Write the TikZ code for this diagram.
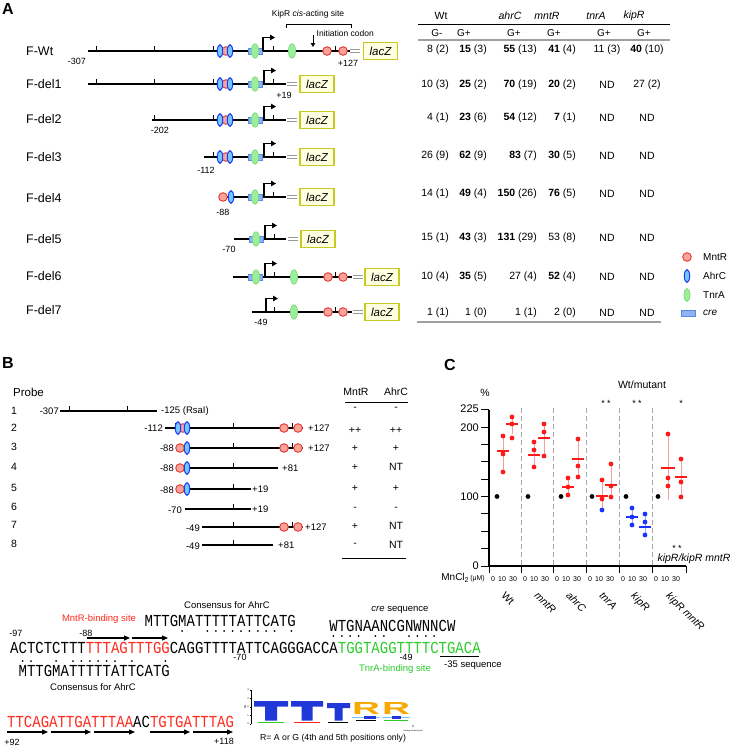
\documentclass[tikz,border=0pt]{standalone}
\usepackage{fontspec}
\setmainfont{Liberation Sans}
\setmonofont{Liberation Mono}
\usetikzlibrary{arrows.meta}
\definecolor{mred}{HTML}{E8352B}
\definecolor{mfill}{HTML}{F7A59C}
\definecolor{ablue}{HTML}{1E3CF5}
\definecolor{afill}{HTML}{72C8FA}
\definecolor{tgreen}{HTML}{7ADB7A}
\definecolor{tfill}{HTML}{9BEF9B}
\definecolor{cline}{HTML}{5A88E6}
\definecolor{cfill}{HTML}{8DB3F4}
\definecolor{lzline}{HTML}{C9C922}
\definecolor{lzfill}{HTML}{FFFFE2}
\definecolor{seqred}{HTML}{FF2A1E}
\definecolor{seqgreen}{HTML}{2BCC2B}
\definecolor{dotred}{HTML}{FF1A1A}
\definecolor{dotblue}{HTML}{1A33FF}
\definecolor{barred}{HTML}{F59C9C}
\definecolor{barblue}{HTML}{9CA8F5}
\definecolor{logoblue}{HTML}{2038D8}
\definecolor{logoorange}{HTML}{F7A900}
\newcommand\fsz[1]{\fontsize{#1}{#1}\selectfont}
\tikzset{
  linesty/.style={line width=1.2pt, black},
  ticksty/.style={line width=1.0pt, black},
  mntrsty/.style={draw=mred, fill=mfill, line width=0.9pt},
  ahrcsty/.style={draw=ablue, fill=afill, line width=1.0pt},
  tnrasty/.style={draw=tgreen, fill=tfill, line width=0.7pt},
  cresty/.style={draw=cline, fill=cfill, line width=0.7pt},
  promsty/.style={line width=1.3pt, -{Triangle[length=5pt,width=5.5pt]}},
  eqsty/.style={line width=1.0pt, gray!80},
  laczsty/.style={draw=lzline, fill=lzfill, line width=1.4pt, minimum width=34pt, minimum height=17pt, inner sep=0pt, font=\fsz{11.5}\itshape},
  rowlab/.style={font=\fsz{12.5}, anchor=west, inner sep=0pt},
  numsty/.style={font=\fsz{9}, inner sep=0pt},
  bnum/.style={font=\fsz{9.5}, inner sep=0pt},
  tabsty/.style={font=\fsz{10.5}, inner sep=0pt},
  tabr/.style={font=\fsz{10.5}, inner sep=0pt, anchor=east},
  panlab/.style={font=\fsz{16}\bfseries, inner sep=0pt},
  smallsty/.style={font=\fsz{8.5}, inner sep=0pt},
  seqlab/.style={font=\fsz{9.5}, inner sep=0pt},
  seqsty/.style={font=\ttfamily\fsz{14}, inner sep=0pt, anchor=base west},
  tinysty/.style={font=\fsz{7}, inner sep=0pt},
  meanR/.style={line width=1.3pt, dotred},
  meanB/.style={line width=1.3pt, dotblue},
  barR/.style={line width=0.8pt, barred},
  barB/.style={line width=0.8pt, barblue},
  glab/.style={font=\fsz{10.5}\itshape, inner sep=0pt, rotate=-45, anchor=north west}
}
\newcommand\McircA[2]{\draw[mntrsty] (#1,#2) circle[radius=4.3];}
\newcommand\AhrcE[2]{\draw[ahrcsty] (#1,#2) ellipse[x radius=2.7,y radius=6.3];}
\newcommand\TnraE[2]{\draw[tnrasty] (#1,#2) ellipse[x radius=3.6,y radius=7.2];}
\newcommand\CreB[2]{\draw[cresty] ({#1-7},{#2-3}) rectangle ({#1+7},{#2+3});}
\newcommand\PromA[2]{\draw[promsty] (#1,#2) -- (#1,{#2-13.5}) -- ({#1+12},{#2-13.5});}
\newcommand\TickA[2]{\draw[ticksty] (#1,#2) -- (#1,{#2-5.5});}
\newcommand\EqA[2]{\draw[eqsty] (#1,{#2-1.7}) -- ({#1+10},{#2-1.7}) (#1,{#2+1.7}) -- ({#1+10},{#2+1.7});}
\newcommand\ClusterA[2]{\McircA{#1+6}{#2}\AhrcE{#1}{#2}\AhrcE{#1+10}{#2}}
\newcommand\PtC[3]{\fill[#3] (#1,#2) circle[radius=2.4];}
\newcommand\rowA[7]{%
  \node[tabr] at (449,#1) {#2};
  \node[tabr] at (487,#1) {#3};
  \node[tabr] at (537,#1) {#4};
  \node[tabr] at (576,#1) {#5};
  \node[tabsty] at (607,#1) {#6};
  \node[tabsty] at (647,#1) {#7};}
\begin{document}
\begin{tikzpicture}[x=1pt,y=-1pt]
\path[use as bounding box, fill=white] (0,0) rectangle (735,747);

%================ PANEL A =================
\node[panlab] (labA) at (8,9) {A};
\node[smallsty] (kip) at (308,14) {KipR \textit{cis}-acting site};
\draw[line width=0.6pt] (286,28) -- (286,24) -- (351,24) -- (351,28);
\draw[line width=1pt, -{Triangle[length=4pt,width=4.5pt]}] (313,35) -- (313,47);
\node[smallsty, anchor=west] (init) at (316.5,33) {Initiation codon};

% F-Wt
\node[rowlab] (lWt) at (26,51) {F-Wt};
\draw[linesty] (88,51) -- (350,51);
\foreach \t in {96,154,213,273,335} {\TickA{\t}{51}}
\ClusterA{220}{51}
\CreB{255}{51}\TnraE{255}{51}
\PromA{263}{51}
\TnraE{292}{51}
\McircA{327}{51}\McircA{343}{51}
\EqA{350}{51}
\node[laczsty] (zWt) at (380.5,51) {lacZ};
\node[numsty] (nWta) at (77,61) {-307};
\node[numsty] (nWtb) at (348,63) {+127};

% F-del1
\node[rowlab] (l1) at (26,84) {F-del1};
\draw[linesty] (88,84) -- (286,84);
\foreach \t in {96,154,213,273} {\TickA{\t}{84}}
\ClusterA{220}{84}
\CreB{255}{84}\TnraE{255}{84}
\PromA{264}{84}
\EqA{287}{84}
\node[laczsty] (z1) at (317,84) {lacZ};
\node[numsty] (n1) at (284,95) {+19};

% F-del2
\node[rowlab] (l2) at (26,119) {F-del2};
\draw[linesty] (152,120) -- (286,120);
\foreach \t in {154,213,273} {\TickA{\t}{120}}
\ClusterA{220}{120}
\CreB{255}{120}\TnraE{255}{120}
\PromA{264}{120}
\EqA{287}{120}
\node[laczsty] (z2) at (317,120) {lacZ};
\node[numsty] (n2) at (160,130) {-202};

% F-del3
\node[rowlab] (l3) at (26,157) {F-del3};
\draw[linesty] (204,157) -- (286,157);
\foreach \t in {213,273} {\TickA{\t}{157}}
\ClusterA{220}{157}
\CreB{255}{157}\TnraE{255}{157}
\PromA{264}{157}
\EqA{287}{157}
\node[laczsty] (z3) at (317,157) {lacZ};
\node[numsty] (n3) at (206,170) {-112};

% F-del4
\node[rowlab] (l4) at (26,198) {F-del4};
\draw[linesty] (227,197) -- (286,197);
\TickA{273}{197}
\McircA{223}{197}\AhrcE{231}{197}
\CreB{255}{197}\TnraE{255}{197}
\PromA{264}{197}
\EqA{287}{197}
\node[laczsty] (z4) at (317,197) {lacZ};
\node[numsty] (n4) at (223,212) {-88};

% F-del5
\node[rowlab] (l5) at (26,239) {F-del5};
\draw[linesty] (234,239) -- (286,239);
\TickA{274}{239}
\CreB{256}{239}\TnraE{256}{239}
\PromA{265}{239}
\EqA{288}{239}
\node[laczsty] (z5) at (318,239) {lacZ};
\node[numsty] (n5) at (229,249) {-70};

% F-del6
\node[rowlab] (l6) at (26,276) {F-del6};
\draw[linesty] (233,277) -- (352,277);
\foreach \t in {274,335} {\TickA{\t}{277}}
\CreB{255}{277}\TnraE{256}{277}
\PromA{265}{277}
\TnraE{294}{277}
\McircA{328}{277}\McircA{343}{277}
\EqA{353}{277}
\node[laczsty] (z6) at (382,277) {lacZ};

% F-del7
\node[rowlab] (l7) at (26,310) {F-del7};
\draw[linesty] (252,312) -- (352,312);
\foreach \t in {274,335} {\TickA{\t}{312}}
\PromA{266}{312}
\TnraE{294}{312}
\McircA{328}{312}\McircA{343}{312}
\EqA{353}{312}
\node[laczsty] (z7) at (382,312) {lacZ};
\node[numsty] (n7) at (261,322) {-49};

% Table A
\node[tabsty] (hWt) at (441,16) {Wt};
\node[tabsty] (hah) at (510,16) {\textit{ahrC}};
\node[tabsty] (hmn) at (547,16) {\textit{mntR}};
\node[tabsty] (htn) at (596,16) {\textit{tnrA}};
\node[tabsty] (hki) at (634,16) {\textit{kipR}};
\draw[line width=0.8pt] (418,24) -- (670,24);
\node[tabsty,font=\fsz{10}] (g1) at (437,33) {G-};
\node[tabsty,font=\fsz{10}] (g2) at (464,33) {G+};
\node[tabsty,font=\fsz{10}] (g3) at (514,33) {G+};
\node[tabsty,font=\fsz{10}] (g4) at (554,33) {G+};
\node[tabsty,font=\fsz{10}] (g5) at (604,33) {G+};
\node[tabsty,font=\fsz{10}] (g6) at (644,33) {G+};
\draw[line width=1.2pt, gray!75] (418,40) -- (670,40);
\rowA{50}{8 (2)}{\textbf{15} (3)}{\textbf{55} (13)}{\textbf{41} (4)}{11 (3)}{\textbf{40} (10)}
\rowA{85}{10 (3)}{\textbf{25} (2)}{\textbf{70} (19)}{\textbf{20} (2)}{ND}{27 (2)}
\rowA{118}{4 (1)}{\textbf{23} (6)}{\textbf{54} (12)}{\textbf{7} (1)}{ND}{ND}
\rowA{156}{26 (9)}{\textbf{62} (9)}{\textbf{83} (7)}{\textbf{30} (5)}{ND}{ND}
\rowA{194}{14 (1)}{\textbf{49} (4)}{\textbf{150} (26)}{\textbf{76} (5)}{ND}{ND}
\rowA{238}{15 (1)}{\textbf{43} (3)}{\textbf{131} (29)}{53 (8)}{ND}{ND}
\rowA{277}{10 (4)}{\textbf{35} (5)}{27 (4)}{\textbf{52} (4)}{ND}{ND}
\rowA{313}{1 (1)}{1 (0)}{1 (1)}{2 (0)}{ND}{ND}
\draw[line width=1.2pt, gray!75] (417,322) -- (661,322);

% Legend
\McircA{687}{257}
\AhrcE{687}{276}
\draw[tnrasty] (687,295) ellipse[x radius=3,y radius=6.5];
\draw[cresty] (681,310) rectangle (695,316);
\node[tabsty,anchor=west,font=\fsz{10}] (lg1) at (703,257) {MntR};
\node[tabsty,anchor=west,font=\fsz{10}] (lg2) at (703,276) {AhrC};
\node[tabsty,anchor=west,font=\fsz{10}] (lg3) at (703,295) {TnrA};
\node[tabsty,anchor=west,font=\fsz{10}\itshape] (lg4) at (703,313) {cre};

%================ PANEL B =================
\node[panlab] (labB) at (8,363) {B};
\node[tabsty,anchor=west,font=\fsz{11.5}] (probe) at (13,392) {Probe};
\foreach \i/\yy in {1/411,2/428,3/447,4/467,5/488,6/507,7/525,8/544} {\node[tabsty] (pn\i) at (14,\yy) {\i};}
% probe 1
\node[bnum,anchor=east] (p1a) at (59,411) {-307};
\draw[linesty] (60,411) -- (157,411);
\TickA{69}{411}\TickA{127}{411}
\node[bnum,anchor=west] (p1b) at (161,411) {-125 (RsaI)};
% probe 2
\node[bnum,anchor=east] (p2a) at (163,428) {-112};
\draw[linesty] (165,428) -- (303,428);
\TickA{175}{428}\TickA{233}{428}\TickA{292}{428}
\McircA{183}{428}\AhrcE{178}{428}\AhrcE{187}{428}
\McircA{284}{428}\McircA{298}{428}
\node[bnum,anchor=west] (p2b) at (308,428) {+127};
% probe 3
\node[bnum,anchor=east] (p3a) at (174,448) {-88};
\draw[linesty] (187,448) -- (303,448);
\TickA{233}{448}\TickA{292}{448}
\McircA{180}{448}\AhrcE{187}{448}
\McircA{284}{448}\McircA{298}{448}
\node[bnum,anchor=west] (p3b) at (308,448) {+127};
% probe 4
\node[bnum,anchor=east] (p4a) at (174,468) {-88};
\draw[linesty] (187,468) -- (278,468);
\TickA{233}{468}
\McircA{180}{468}\AhrcE{187}{468}
\node[bnum,anchor=west] (p4b) at (282,468) {+81};
% probe 5
\node[bnum,anchor=east] (p5a) at (174,490) {-88};
\draw[linesty] (187,489) -- (251,489);
\TickA{233}{489}
\McircA{180}{489}\AhrcE{187}{489}
\node[bnum,anchor=west] (p5b) at (252,489) {+19};
% probe 6
\node[bnum,anchor=east] (p6a) at (182,510) {-70};
\draw[linesty] (185,509) -- (251,509);
\TickA{233}{509}
\node[bnum,anchor=west] (p6b) at (252,509) {+19};
% probe 7
\node[bnum,anchor=east] (p7a) at (200,528) {-49};
\draw[linesty] (202,527) -- (303,527);
\TickA{233}{527}\TickA{292}{527}
\McircA{284}{527}\McircA{298}{527}
\node[bnum,anchor=west] (p7b) at (305,527) {+127};
% probe 8
\node[bnum,anchor=east] (p8a) at (200,546) {-49};
\draw[linesty] (202,545) -- (273,545);
\TickA{233}{545}
\node[bnum,anchor=west] (p8b) at (278,545) {+81};

% Table B
\node[tabsty] (tbM) at (356,392) {MntR};
\node[tabsty] (tbA) at (396,392) {AhrC};
\draw[line width=0.8pt] (345,402) -- (408,402);
\foreach \yy/\a/\b in {409/-/-,430/++/++,448/+/+,467/+/NT,488/+/+,509/-/-,526/+/NT,545/-/NT} {
  \node[tabsty] at (355,\yy) {\a};
  \node[tabsty] at (396,\yy) {\b};
}
\draw[line width=0.8pt] (342,558) -- (406,558);

%================ PANEL C =================
\node[panlab] (labC) at (450,365) {C};
\node[tabsty] (wtm) at (642,385) {Wt/mutant};
\node[tabsty] (pct) at (485,393) {\%};
\draw[line width=1.1pt] (489,409.6) -- (489,566) -- (686,566);
\foreach \v in {0,25,...,225} {\draw[line width=1pt] (481,{566-0.695*\v}) -- (489,{566-0.695*\v});}
\node[tabsty,anchor=east,font=\fsz{11}] (y225) at (479,409) {225};
\node[tabsty,anchor=east,font=\fsz{11}] (y200) at (479,427.5) {200};
\node[tabsty,anchor=east,font=\fsz{11}] (y100) at (479,497) {100};
\node[tabsty,anchor=east,font=\fsz{11}] (y0) at (479,566) {0};
\foreach \g in {489,521,553,586,619,652,686} {\draw[line width=1pt] (\g,566) -- (\g,573);}
\foreach \g in {521,553,586,619,652} {\draw[line width=0.7pt, gray!70, dash pattern=on 5pt off 3pt] (\g,408) -- (\g,566);}
\foreach \g in {489,521,553,586,619,652} {
  \node[tinysty] at (\g+4,579) {0};
  \node[tinysty] at (\g+13,579) {10};
  \node[tinysty] at (\g+24,579) {30};
}
\node[inner sep=0pt, anchor=east] (mncl) at (485,578) {\fsz{10}MnCl\raisebox{-1.5pt}{\fsz{7}2}\,\fsz{7}(μM)};
% black controls
\foreach \xx in {497,528,561,592,626,658} {\PtC{\xx}{496.5}{black}}
% Wt
\draw[barR] (503,436) -- (503,470);
\draw[meanR] (497,451) -- (509,451);
\PtC{503}{436}{dotred}\PtC{503}{454}{dotred}\PtC{503}{472}{dotred}
\draw[barR] (512,416) -- (512,434);
\draw[meanR] (506,424) -- (518,424);
\PtC{512}{417}{dotred}\PtC{512}{424}{dotred}\PtC{512}{438}{dotred}
% mntR
\draw[barR] (534,442) -- (534,468);
\draw[meanR] (528,455) -- (540,455);
\PtC{534}{442}{dotred}\PtC{534}{450}{dotred}\PtC{534}{467}{dotred}
\draw[barR] (544,424) -- (544,456);
\draw[meanR] (538,438) -- (550,438);
\PtC{544}{424}{dotred}\PtC{544}{432}{dotred}\PtC{544}{456}{dotred}
% ahrC
\draw[barR] (568,478) -- (568,495);
\draw[meanR] (562,487) -- (574,487);
\PtC{568}{478}{dotred}\PtC{568}{487}{dotred}\PtC{568}{495}{dotred}
\draw[barR] (578,439) -- (578,478);
\draw[meanR] (572,459) -- (584,459);
\PtC{578}{439}{dotred}\PtC{578}{466}{dotred}\PtC{578}{477}{dotred}
% tnrA
\draw[barR] (602,480) -- (602,510);
\draw[meanR] (596,496) -- (608,496);
\PtC{602}{480}{dotred}\PtC{602}{499}{dotred}\PtC{602}{510}{dotblue}
\draw[barR] (611,464) -- (611,497);
\draw[meanR] (605,485) -- (617,485);
\PtC{611}{464}{dotred}\PtC{611}{486}{dotred}\PtC{611}{497}{dotred}
% kipR
\draw[barB] (632,508) -- (632,525);
\draw[meanB] (626,517) -- (638,517);
\PtC{632}{508}{dotblue}\PtC{632}{517}{dotblue}\PtC{632}{525}{dotblue}
\draw[barB] (645,514) -- (645,535);
\draw[meanB] (639,527) -- (651,527);
\PtC{645}{514}{dotblue}\PtC{645}{522}{dotblue}\PtC{645}{535}{dotblue}
% kipR mntR
\draw[barR] (668,434) -- (668,500);
\draw[meanR] (661,468) -- (675,468);
\PtC{668}{434}{dotred}\PtC{668}{478}{dotred}\PtC{668}{486}{dotred}
\draw[barR] (681,459) -- (681,497);
\draw[meanR] (675,477) -- (687,477);
\PtC{681}{459}{dotred}\PtC{681}{482}{dotred}\PtC{681}{497}{dotred}
% stars
\node[tabsty,font=\fsz{9}] (s1) at (606,403) {* *};
\node[tabsty,font=\fsz{9}] (s2) at (637,403) {* *};
\node[tabsty,font=\fsz{9}] (s3) at (681,403) {*};
\node[tabsty,font=\fsz{9}] (s4) at (677,548) {* *};
\node[tabsty,font=\fsz{10.5}\itshape] (kk) at (694,559) {kipR/kipR mntR};
% group labels
\node[glab,font=\fsz{10.5}] (gl1) at (506,591) {Wt};
\node[glab] (gl2) at (539,591) {mntR};
\node[glab] (gl3) at (571,591) {ahrC};
\node[glab] (gl4) at (604,591) {tnrA};
\node[glab] (gl5) at (636,591) {kipR};
\node[glab] (gl6) at (671,591) {kipR mntR};

%================ SEQUENCES =================
\node[seqlab] (cons1) at (227,605) {Consensus for AhrC};
\node[seqlab,text=seqred] (mbs) at (99,619) {MntR-binding site};
\node[seqsty] (top) at (144.4,626) {\scalebox{1}[1.2]{MTTGMATTTTTATTCATG}};
\foreach \i in {20,23,24,25,26,27,28,29,30,31,33} {\fill (10+8.4*\i+4.2,631) circle[radius=1];}
\node[seqlab] (cres) at (400,610) {\textit{cre} sequence};
\node[seqsty] (creq) at (329.2,631) {\scalebox{1}[1.2]{WTGNAANCGNWNNCW}};
\foreach \i in {38,39,40,41,43,44,47,48,49,50} {\fill (10+8.4*\i+4.2,636) circle[radius=1];}
\node[seqlab,font=\fsz{9}] (m97) at (16,633) {-97};
\node[seqlab,font=\fsz{9}] (m88) at (86,633) {-88};
\draw[line width=1.3pt, -{Triangle[length=6pt,width=5pt]}] (87,638) -- (130,638);
\draw[line width=1.3pt, -{Triangle[length=6pt,width=5pt]}] (132,638) -- (168,638);
\node[seqsty] (mainseq) at (10,653) {\scalebox{1}[1.2]{ACTCTCTTT\textcolor{seqred}{TTTAGTTTGG}CAGGTTTTATTCAGGGACCA\textcolor{seqgreen}{TGGTAGGTTTTCTGACA}}};
\foreach \i in {1,2,5,7,8,9,10,11,12,14,18} {\fill (10+8.4*\i+4.2,661) circle[radius=1];}
\node[seqlab,font=\fsz{9}] (m70) at (240,657) {-70};
\node[seqlab,font=\fsz{9}] (m49) at (406,657) {-49};
\draw[line width=0.9pt] (440,656) -- (479,656);
\node[seqlab,anchor=west] (m35) at (444,665) {-35 sequence};
\node[seqlab,text=seqgreen] (tbs) at (395,669) {TnrA-binding site};
\node[seqsty] (bot) at (18.4,676) {\scalebox{1}[1.2]{MTTGMATTTTTATTCATG}};
\node[seqlab] (cons2) at (93,687) {Consensus for AhrC};

\node[seqsty] (lowseq) at (7,727) {\scalebox{1}[1.2]{\textcolor{seqred}{TTCAGATTGATTTAA}AC\textcolor{seqred}{TGTGATTTAG}}};
\foreach \a/\b in {7/48,51/91,94/135,150/190,193/233} {\draw[line width=1.3pt, -{Triangle[length=6pt,width=5pt]}] (\a,732) -- (\b,732);}
\node[seqlab,font=\fsz{9}] (p92) at (12,742) {+92};
\node[seqlab,font=\fsz{9}] (p118) at (224,741) {+118};

% sequence logo
\draw[line width=0.4pt] (251,690) -- (251,724);
\foreach \yy/\lab in {690/4,698.5/3,707/2,715.5/1,724/0} {\draw[line width=0.3pt] (249.5,\yy) -- (251,\yy); \node[inner sep=0pt,font=\fsz{2.5}] at (248,\yy) {\lab};}
\node[inner sep=0pt,font=\fsz{2.5},rotate=90] (bits) at (245,707) {bits};
% T letters drawn as blocks
\fill[logoblue] (254,701) rectangle (288,706.5) (265,706.5) rectangle (277,720.5);
\fill[logoblue] (291,701) rectangle (323,706.5) (301.5,706.5) rectangle (312.5,720.5);
\fill[logoblue] (327,703) rectangle (350,708) (334.5,708) rectangle (342.5,720.5);
\node[inner sep=0pt,anchor=south,text=logoorange] (R1) at (366,715) {\resizebox{28pt}{12pt}{\bfseries R}};
\node[inner sep=0pt,anchor=south,text=logoorange] (R2) at (396,715) {\resizebox{28pt}{12pt}{\bfseries R}};
\fill[afill] (352,716.5) rectangle (380,717.5);
\fill[logoblue] (364,715.5) rectangle (376,719);
\fill[afill] (382,716.5) rectangle (410,717.5);
\fill[logoblue] (392,715.5) rectangle (401,719);
\fill[seqgreen] (384,720) rectangle (408,721);
\fill[seqgreen] (258,721.5) rectangle (284,722.6);
\fill[seqred] (294,721.5) rectangle (320,722.6);
\fill[black] (328,721.5) rectangle (348,722.6);
\fill[black] (356,720) rectangle (376,720.8);
\node[inner sep=0pt,font=\fsz{3}] (l0) at (413,726) {0};
\node[inner sep=0pt,font=\fsz{2}] (lw) at (413,731) {weblogo.berkeley.edu};
\node[seqlab,font=\fsz{8.7},anchor=west] (rnote) at (260,738) {R= A or G (4th and 5th positions only)};
\end{tikzpicture}
\end{document}
